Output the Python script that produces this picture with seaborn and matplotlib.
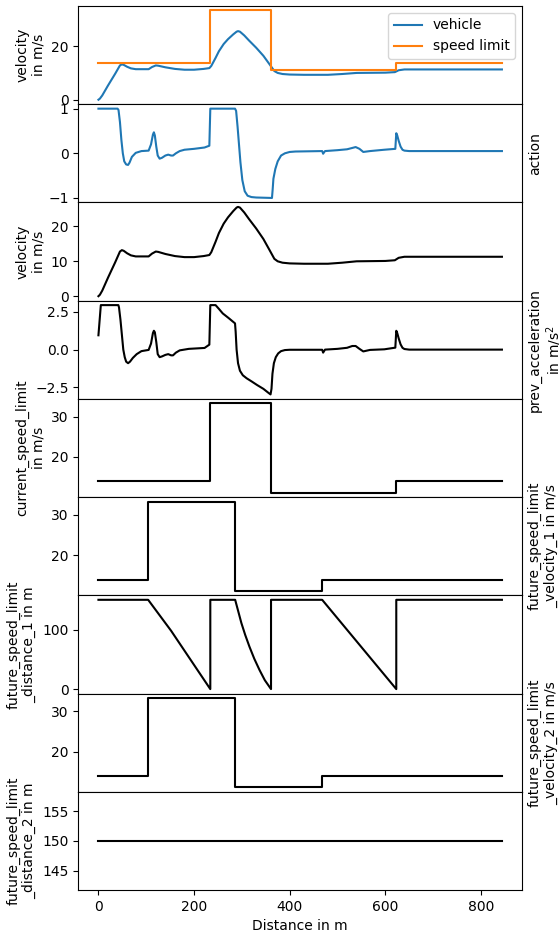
import numpy as np
import pandas as pd
import matplotlib
matplotlib.use("Agg")
import matplotlib.pyplot as plt
import seaborn as sns

# ---------------- data ----------------
veh_x = [0, 3, 8, 20, 35, 45, 49, 53, 60, 68, 78, 105, 112, 120, 125, 140,
         160, 180, 200, 220, 232, 236, 245, 252, 262, 271, 282, 289, 292, 296,
         305, 315, 330, 345, 358, 368, 375, 385, 400, 430, 480, 510, 540, 600,
         620, 628, 640, 844]
veh_v = [0, 0.4, 1.6, 5.3, 9.7, 12.8, 13.2, 13.0, 12.3, 11.7, 11.4, 11.4, 12.2,
         12.8, 12.7, 12.1, 11.5, 11.2, 11.2, 11.5, 11.8, 12.6, 15.6, 18.1, 20.8,
         22.6, 24.4, 25.4, 25.6, 25.4, 24.0, 22.1, 19.4, 16.4, 13.2, 10.7, 10.0,
         9.6, 9.4, 9.3, 9.3, 9.6, 10.0, 10.1, 10.3, 11.0, 11.3, 11.3]

limit_x = [0, 234, 362, 623, 844]
limit_v = [13.89, 33.33, 11.11, 13.89, 13.89]

act_x = [0, 40, 42, 45, 48, 51, 54, 58, 62, 65, 70, 78, 90, 105, 110, 114, 116,
         118, 121, 124, 128, 133, 140, 146, 152, 156, 162, 170, 180, 200, 222,
         232, 234, 285.7, 288, 291, 294, 297, 301, 306, 312, 320, 330, 363,
         364.5, 366, 370, 375, 382, 390, 400, 412, 468, 470, 474, 500, 520,
         531, 538, 546, 554, 568, 598, 621, 623, 625, 628, 632, 636, 640, 650,
         844]
act_v = [1.0, 1.0, 0.97, 0.7, 0.3, 0.0, -0.18, -0.25, -0.26, -0.21, -0.08,
         0.01, 0.05, 0.06, 0.2, 0.42, 0.47, 0.4, 0.15, -0.05, -0.12, -0.1,
         -0.05, -0.03, -0.05, -0.05, 0.0, 0.05, 0.08, 0.1, 0.13, 0.17, 1.0, 1.0,
         0.95, 0.6, 0.2, -0.2, -0.6, -0.85, -0.95, -0.98, -0.99, -1.0, -0.8,
         -0.57, -0.35, -0.18, -0.05, 0.0, 0.03, 0.04, 0.05, -0.01, 0.05, 0.07,
         0.09, 0.12, 0.14, 0.1, 0.03, 0.05, 0.08, 0.1, 0.45, 0.4, 0.28, 0.15,
         0.08, 0.06, 0.05, 0.05]

acc_x = [0, 5, 8, 41.7, 43, 46, 49, 52, 55, 58, 62, 66, 72, 80, 90, 105, 110,
         114, 116, 118, 121, 124, 128, 133, 140, 146, 152, 156, 162, 170, 189,
         222, 232, 234, 245, 252, 260, 272, 285.7, 287, 289, 292, 296, 302, 310,
         320, 332, 345, 355, 360, 362, 364, 367, 371, 376, 382, 390, 400, 468,
         470, 474, 500, 520, 531, 538, 546, 554, 568, 598, 621, 623, 625, 628,
         632, 636, 640, 650, 844]
acc_v = [0.95, 2.95, 2.95, 2.95, 2.8, 2.0, 1.0, 0.0, -0.5, -0.8, -0.9, -0.8,
         -0.55, -0.3, -0.1, -0.02, 0.4, 1.1, 1.25, 1.15, 0.5, -0.3, -0.5, -0.45,
         -0.35, -0.3, -0.38, -0.38, -0.2, -0.05, 0.05, 0.11, 0.33, 2.95, 2.95,
         2.7, 2.4, 2.1, 1.74, 1.2, 0.0, -0.9, -1.4, -1.7, -1.9, -2.1, -2.35,
         -2.6, -2.85, -2.97, -2.6, -1.6, -0.9, -0.5, -0.25, -0.1, -0.03, -0.01,
         -0.01, -0.2, 0.0, 0.05, 0.12, 0.24, 0.24, 0.05, -0.12, -0.02, 0.02,
         0.13, 1.25, 1.1, 0.75, 0.35, 0.12, 0.04, 0.0, 0.0]

cur_lim_x = [0, 234, 362, 623, 844]
cur_lim_v = [13.89, 33.33, 11.11, 13.89, 13.89]

fut_v1_x = [0, 104, 286, 468, 844]
fut_v1_v = [13.89, 33.33, 11.11, 13.89, 13.89]

fut_d1_x = [0, 104, 152, 234, 234, 286, 292, 299, 307, 316, 326, 337, 348,
            361, 361, 468, 623, 623, 844]
fut_d1_v = [150, 150, 98, 0, 150, 150, 132, 111, 91, 71, 51, 32, 15, 0, 150,
            150, 0, 150, 150]

fut_v2_x = [0, 104, 286, 468, 844]
fut_v2_v = [13.89, 33.33, 11.11, 13.89, 13.89]

fut_d2_x = [0, 844]
fut_d2_v = [150, 150]

# ---------------- figure ----------------
fig, axes = plt.subplots(9, 1, sharex=True, figsize=(5.59, 9.31), dpi=100)
fig.subplots_adjust(left=0.14, right=0.934, top=0.9936, bottom=0.044, hspace=0)

kw = dict(estimator=None, sort=False, linewidth=1.5)

ax = axes[0]
sns.lineplot(x=veh_x, y=veh_v, ax=ax, color="tab:blue", label="vehicle", **kw)
sns.lineplot(x=limit_x, y=limit_v, ax=ax, color="tab:orange",
             label="speed limit", drawstyle="steps-post", **kw)
ax.legend(loc="upper right")
ax.set_ylabel("velocity\nin m/s")
ax.set_yticks([0, 20])

ax = axes[1]
sns.lineplot(x=act_x, y=act_v, ax=ax, color="tab:blue", **kw)
ax.set_ylabel("action")
ax.yaxis.set_label_position("right")
ax.set_yticks([-1, 0, 1])

ax = axes[2]
sns.lineplot(x=veh_x, y=veh_v, ax=ax, color="black", **kw)
ax.set_ylabel("velocity\nin m/s")
ax.set_yticks([0, 10, 20])

ax = axes[3]
sns.lineplot(x=acc_x, y=acc_v, ax=ax, color="black", **kw)
ax.set_ylabel("prev_acceleration\nin m/s$^2$")
ax.yaxis.set_label_position("right")
ax.set_yticks([-2.5, 0.0, 2.5])

ax = axes[4]
sns.lineplot(x=cur_lim_x, y=cur_lim_v, ax=ax, color="black",
             drawstyle="steps-post", **kw)
ax.set_ylabel("current_speed_limit\nin m/s")
ax.set_yticks([20, 30])

ax = axes[5]
sns.lineplot(x=fut_v1_x, y=fut_v1_v, ax=ax, color="black",
             drawstyle="steps-post", **kw)
ax.set_ylabel("future_speed_limit\n_velocity_1 in m/s")
ax.yaxis.set_label_position("right")
ax.set_yticks([20, 30])

ax = axes[6]
sns.lineplot(x=fut_d1_x, y=fut_d1_v, ax=ax, color="black", **kw)
ax.set_ylabel("future_speed_limit\n_distance_1 in m")
ax.set_yticks([0, 100])

ax = axes[7]
sns.lineplot(x=fut_v2_x, y=fut_v2_v, ax=ax, color="black",
             drawstyle="steps-post", **kw)
ax.set_ylabel("future_speed_limit\n_velocity_2 in m/s")
ax.yaxis.set_label_position("right")
ax.set_yticks([20, 30])

ax = axes[8]
sns.lineplot(x=fut_d2_x, y=fut_d2_v, ax=ax, color="black", **kw)
ax.set_ylabel("future_speed_limit\n_distance_2 in m")
ax.set_yticks([145, 150, 155])
ax.set_xlabel("Distance in m")
ax.set_xticks([0, 200, 400, 600, 800])

for a in axes[:-1]:
    a.tick_params(axis="x", bottom=False)
    a.set_xlabel("")

fig.savefig("out.png", dpi=100)
